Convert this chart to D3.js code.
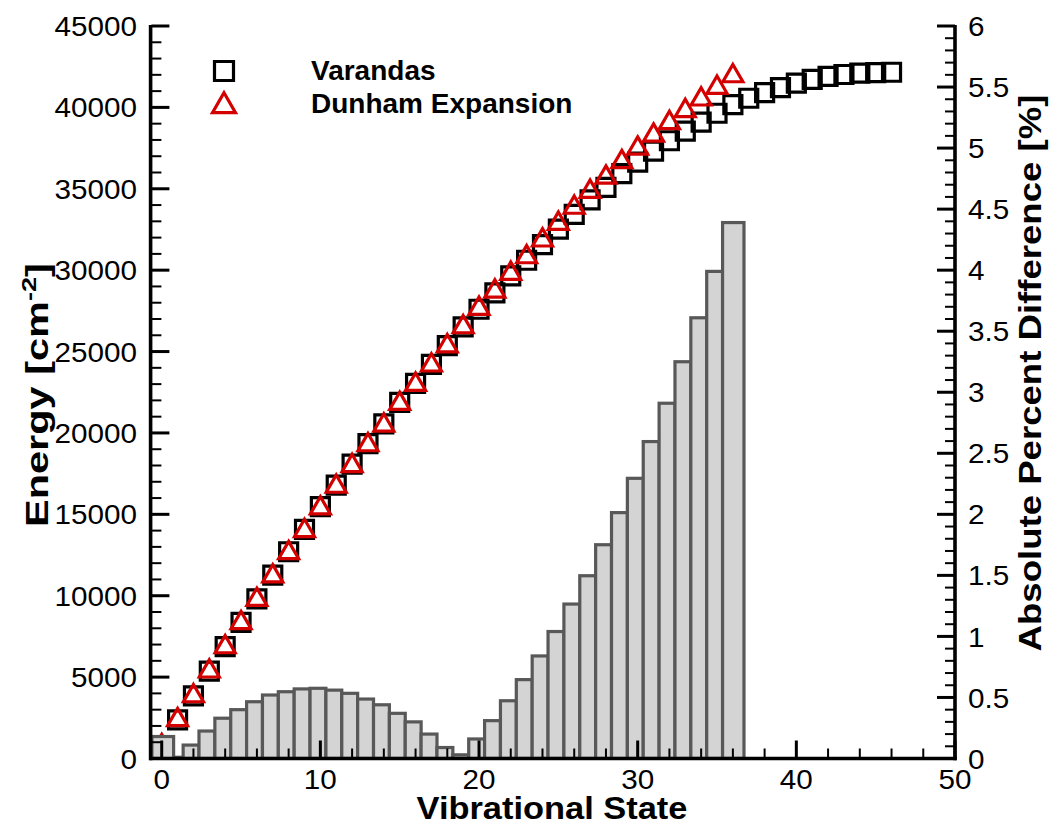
<!DOCTYPE html>
<html>
<head>
<meta charset="utf-8">
<script src="https://cdn.jsdelivr.net/npm/d3@7"></script>
<style>
  html, body { margin: 0; padding: 0; background: #ffffff; }
  svg { display: block; }
  text { font-family: "Liberation Sans", Arial, Helvetica, sans-serif; fill: #000; }
</style>
</head>
<body>
<svg id="chart" width="1050" height="825"></svg>
<script>
// Vibrational energy levels (cm^-1), indexed by vibrational state v = 0, 1, 2, ...
const varandasEnergy = [
  770, 2370, 3845, 5370, 6870, 8360, 9810, 11260, 12700, 14070,
  15470, 16800, 18080, 19350, 20560, 21880, 23040, 24210, 25360, 26520,
  27600, 28610, 29650, 30610, 31570, 32520, 33430, 34320, 35090, 35930,
  36640, 37310, 37950, 38540, 39090, 39640, 40170, 40560, 40910, 41220,
  41490, 41720, 41900, 42020, 42100, 42140, 42160
];
const dunhamEnergy = [
  770, 2370, 3840, 5360, 6850, 8330, 9760, 11200, 12630, 13990,
  15380, 16710, 17980, 19260, 20470, 21800, 22970, 24160, 25340, 26510,
  27640, 28700, 29790, 30810, 31840, 32860, 33850, 34830, 35700, 36650,
  37480, 38280, 39050, 39790, 40500, 41220, 41930
];
// Absolute percent difference between the two level sets, v = 0 .. 36
const percentDiff = [
  0.18, 0.01, 0.11, 0.225, 0.33, 0.40, 0.465, 0.52, 0.547, 0.57,
  0.575, 0.56, 0.534, 0.487, 0.44, 0.37, 0.30, 0.20, 0.09, 0.03,
  0.16, 0.31, 0.473, 0.646, 0.84, 1.04, 1.265, 1.497, 1.751, 2.014,
  2.295, 2.596, 2.91, 3.25, 3.61, 3.99, 4.39
];

const xTicks = [0, 10, 20, 30, 40, 50];
const energyTicks = [0, 5000, 10000, 15000, 20000, 25000, 30000, 35000, 40000, 45000];
const percentTicks = [0, 0.5, 1, 1.5, 2, 2.5, 3, 3.5, 4, 4.5, 5, 5.5, 6];
const legendLabels = ["Varandas", "Dunham Expansion"];

const svg = d3.select("#chart");
svg.append("rect").attr("width", 1050).attr("height", 825).attr("fill", "#fff");

const plot = { left: 151.4, right: 955, top: 26, bottom: 758.5 };

const x = d3.scaleLinear().domain([-0.65, 50]).range([plot.left, plot.right]);
const yE = d3.scaleLinear().domain([0, 45000]).range([plot.bottom, plot.top]);
const yP = d3.scaleLinear().domain([0, 6]).range([plot.bottom, plot.top]);

svg.append("clipPath").attr("id", "plotClip")
  .append("rect")
  .attr("x", plot.left).attr("y", plot.top - 30)
  .attr("width", plot.right - plot.left).attr("height", plot.bottom - plot.top + 30);

// Marker shapes
function squareShape(side) {
  return `M${-side/2},${-side/2}h${side}v${side}h${-side}Z`;
}
function triangleShape(side) {
  const h = side * Math.sqrt(3) / 2;
  return `M0,${-2*h/3}L${side/2},${h/3}L${-side/2},${h/3}Z`;
}
const squarePath = squareShape(18);
const trianglePath = triangleShape(20);
const redMark = "#d40000";

const layer = svg.append("g").attr("clip-path", "url(#plotClip)");

// Varandas levels (squares)
layer.append("g")
  .selectAll("path")
  .data(varandasEnergy)
  .join("path")
  .attr("d", squarePath)
  .attr("transform", (d, i) => `translate(${x(i)},${yE(d)})`)
  .attr("fill", "none")
  .attr("stroke", "#000")
  .attr("stroke-width", 3.2);

// Dunham expansion levels (triangles)
layer.append("g")
  .selectAll("path")
  .data(dunhamEnergy)
  .join("path")
  .attr("d", trianglePath)
  .attr("transform", (d, i) => `translate(${x(i)},${yE(d)})`)
  .attr("fill", "none")
  .attr("stroke", redMark)
  .attr("stroke-width", 3.2);

// Percent difference bars (right axis)
const last = percentDiff.length - 1;
function barLeft(i) {
  if (i === 0) return -0.62;
  if (i === 1) return 0.75;
  return i - 0.65;
}
function barRight(i) {
  if (i === 0) return 0.75;
  if (i === last) return i + 0.7;
  return i + 0.35;
}
layer.append("g")
  .selectAll("rect")
  .data(percentDiff)
  .join("rect")
  .attr("x", (d, i) => x(barLeft(i)))
  .attr("width", (d, i) => x(barRight(i)) - x(barLeft(i)))
  .attr("y", d => yP(d))
  .attr("height", d => yP(0) - yP(d))
  .attr("fill", "#d4d4d4")
  .attr("stroke", "#585858")
  .attr("stroke-width", 3.2);

// Axes
const axes = svg.append("g");
const majorLen = 18, minorLen = 10;
const labelStretch = 1.06;

// bottom axis
const xMinor = d3.range(0, 51, 2).filter(v => v % 10 !== 0);
axes.append("g").selectAll("line").data(xMinor).join("line")
  .attr("x1", d => x(d)).attr("x2", d => x(d))
  .attr("y1", plot.bottom).attr("y2", plot.bottom - minorLen)
  .attr("stroke", "#000").attr("stroke-width", 2);
axes.append("g").selectAll("line").data(xTicks).join("line")
  .attr("x1", d => x(d)).attr("x2", d => x(d))
  .attr("y1", plot.bottom).attr("y2", plot.bottom - majorLen)
  .attr("stroke", "#000").attr("stroke-width", 3);
axes.append("g").selectAll("text").data(xTicks).join("text")
  .attr("transform", d => `translate(${x(d)},789) scale(${labelStretch},1)`)
  .attr("text-anchor", "middle")
  .attr("font-size", 28)
  .text(d => d);

// left axis
const eMinor = d3.range(0, 45001, 1000).filter(v => v % 5000 !== 0);
axes.append("g").selectAll("line").data(eMinor).join("line")
  .attr("x1", plot.left).attr("x2", plot.left + minorLen)
  .attr("y1", d => yE(d)).attr("y2", d => yE(d))
  .attr("stroke", "#000").attr("stroke-width", 2);
axes.append("g").selectAll("line").data(energyTicks).join("line")
  .attr("x1", plot.left).attr("x2", plot.left + majorLen)
  .attr("y1", d => yE(d)).attr("y2", d => yE(d))
  .attr("stroke", "#000").attr("stroke-width", 3);
axes.append("g").selectAll("text").data(energyTicks).join("text")
  .attr("transform", d => `translate(137,${yE(d)}) scale(${labelStretch},1)`)
  .attr("dy", "0.36em")
  .attr("text-anchor", "end")
  .attr("font-size", 28)
  .text(d => d);

// right axis
const pMinor = d3.range(0, 61).map(v => v / 10).filter(v => Math.round(v * 10) % 5 !== 0);
axes.append("g").selectAll("line").data(pMinor).join("line")
  .attr("x1", plot.right).attr("x2", plot.right - minorLen)
  .attr("y1", d => yP(d)).attr("y2", d => yP(d))
  .attr("stroke", "#000").attr("stroke-width", 2);
axes.append("g").selectAll("line").data(percentTicks).join("line")
  .attr("x1", plot.right).attr("x2", plot.right - majorLen)
  .attr("y1", d => yP(d)).attr("y2", d => yP(d))
  .attr("stroke", "#000").attr("stroke-width", 3);
axes.append("g").selectAll("text").data(percentTicks).join("text")
  .attr("transform", d => `translate(968,${yP(d)}) scale(${labelStretch},1)`)
  .attr("dy", "0.36em")
  .attr("text-anchor", "start")
  .attr("font-size", 28)
  .text(d => d);

// axis lines
axes.append("line")
  .attr("x1", plot.left - 1.8).attr("x2", plot.right + 1.8)
  .attr("y1", plot.bottom).attr("y2", plot.bottom)
  .attr("stroke", "#000").attr("stroke-width", 3.6);
axes.append("line")
  .attr("x1", plot.left - 0.8).attr("x2", plot.left - 0.8)
  .attr("y1", plot.top - 1).attr("y2", plot.bottom + 1.8)
  .attr("stroke", "#000").attr("stroke-width", 3.6);
axes.append("line")
  .attr("x1", plot.right).attr("x2", plot.right)
  .attr("y1", plot.top - 1).attr("y2", plot.bottom + 1.8)
  .attr("stroke", "#000").attr("stroke-width", 3.6);

// Titles are stretched along their reading direction to a set length.
function fitTitle(sel, cx, cy, rotate, length) {
  const natural = sel.node().getBBox().width;
  sel.attr("transform",
    `translate(${cx},${cy}) rotate(${rotate}) scale(${length / natural},1)`);
}

const xTitle = svg.append("text")
  .attr("text-anchor", "middle")
  .attr("font-size", 32).attr("font-weight", "bold")
  .text("Vibrational State");
fitTitle(xTitle, 552, 819, 0, 271);

const yTitle = svg.append("text")
  .attr("text-anchor", "middle")
  .attr("font-size", 32).attr("font-weight", "bold");
yTitle.append("tspan").text("Energy [cm");
yTitle.append("tspan").attr("dy", -12).attr("font-size", 21).text("-2");
yTitle.append("tspan").attr("dy", 12).text("]");
fitTitle(yTitle, 48, 395, -90, 264);

const rTitle = svg.append("text")
  .attr("text-anchor", "middle")
  .attr("font-size", 32).attr("font-weight", "bold")
  .text("Absolute Percent Difference [%]");
fitTitle(rTitle, 1041, 373, -90, 557);

// legend
const legend = svg.append("g");
const legendMarks = [
  { path: squareShape(19), stroke: "#000", cy: 71 },
  { path: triangleShape(23), stroke: redMark, cy: 106 }
];
legend.selectAll("path").data(legendMarks).join("path")
  .attr("d", d => d.path)
  .attr("transform", d => `translate(224,${d.cy})`)
  .attr("fill", "none")
  .attr("stroke", d => d.stroke)
  .attr("stroke-width", 3.2);
legend.selectAll("text").data(legendLabels).join("text")
  .attr("x", 311)
  .attr("y", (d, i) => i === 0 ? 80 : 113)
  .attr("font-size", 28).attr("font-weight", "bold")
  .text(d => d);
</script>
</body>
</html>
